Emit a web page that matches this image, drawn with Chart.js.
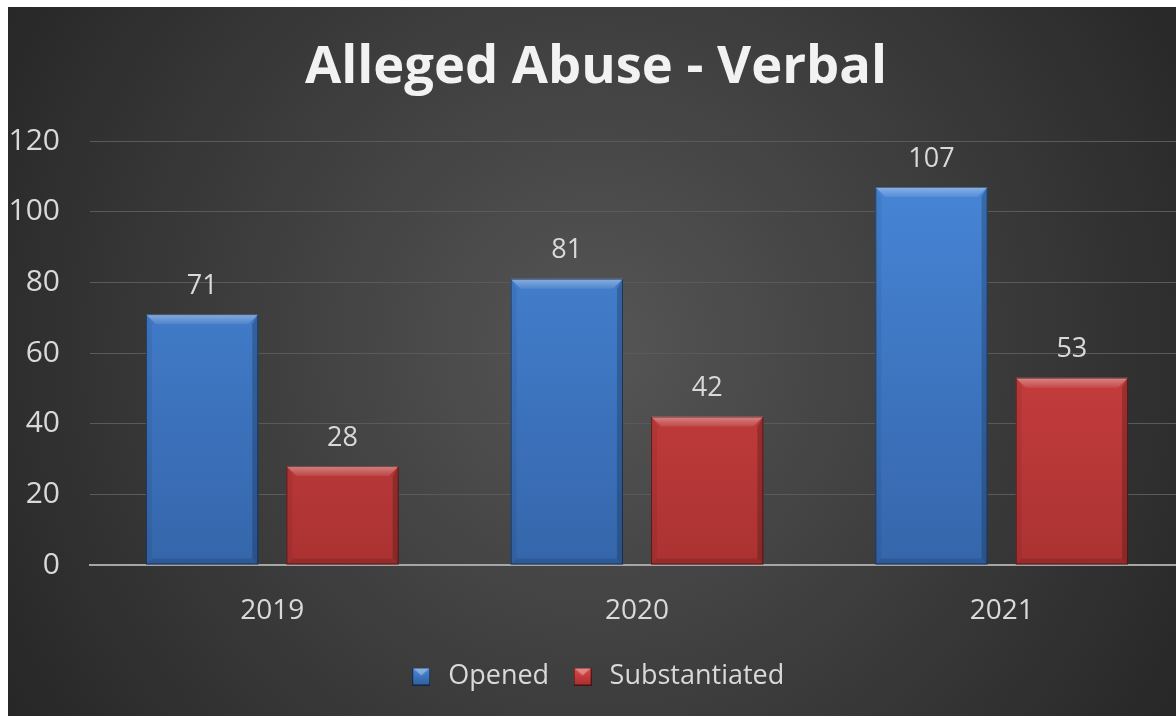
<!DOCTYPE html>
<html>
<head>
<meta charset="utf-8">
<script src="https://cdn.jsdelivr.net/npm/chart.js@4/dist/chart.umd.min.js"></script>
<style>
  html, body { margin: 0; padding: 0; background: #fff; overflow: hidden; }
  #wrap { position: absolute; left: 8px; top: 7px; width: 1176px; height: 709px; }
</style>
</head>
<body>
<div id="wrap"><canvas id="abuseChart"></canvas></div>
<script>
// data
const years = ['2019', '2020', '2021'];
const opened = [71, 81, 107];
const substantiated = [28, 42, 53];
const yTicks = [0, 20, 40, 60, 80, 100, 120];

const FONT = "'Open Sans', 'DejaVu Sans', sans-serif";

// bar fill gradients (top -> bottom)
const barGrad = (ctx, top, bottom) => {
    const chart = ctx.chart;
    const area = chart.chartArea;
    if (!area) return top;
    const g = chart.ctx.createLinearGradient(0, area.top, 0, area.bottom);
    g.addColorStop(0, top);
    g.addColorStop(1, bottom);
    return g;
};

// background: dark radial gradient
const bgPlugin = {
    id: 'bg',
    beforeDraw: (chart) => {
        const c = chart.ctx, w = chart.width, h = chart.height;
        c.save();
        const g = c.createRadialGradient(w * 0.5, h * 0.48, 20, w * 0.5, h * 0.48, w * 0.62);
        g.addColorStop(0, '#545454');
        g.addColorStop(1, '#242424');
        c.fillStyle = g;
        c.fillRect(0, 0, w, h);
        c.restore();
    }
};

// bevel on each bar + value labels
const bevelPlugin = {
    id: 'bevel',
    afterDatasetsDraw: (chart) => {
        const c = chart.ctx;
        chart.data.datasets.forEach((ds, di) => {
            const meta = chart.getDatasetMeta(di);
            meta.data.forEach((bar, i) => {
                const l = bar.x - bar.width / 2, r = bar.x + bar.width / 2;
                const t = bar.y, b = bar.base;
                const s = 10;
                c.save();
                // top bevel
                let g = c.createLinearGradient(0, t, 0, t + s);
                g.addColorStop(0, 'rgba(255,255,255,0.38)');
                g.addColorStop(1, 'rgba(255,255,255,0.08)');
                c.fillStyle = g;
                c.beginPath();
                c.moveTo(l, t); c.lineTo(r, t); c.lineTo(r - s, t + s); c.lineTo(l + s, t + s);
                c.closePath(); c.fill();
                // left bevel
                c.fillStyle = 'rgba(0,0,0,0.06)';
                c.beginPath();
                c.moveTo(l, t); c.lineTo(l + s * 0.6, t + s); c.lineTo(l + s * 0.6, b - s * 0.6); c.lineTo(l, b);
                c.closePath(); c.fill();
                // right bevel
                c.fillStyle = 'rgba(0,0,0,0.2)';
                c.beginPath();
                c.moveTo(r, t); c.lineTo(r - s * 0.6, t + s); c.lineTo(r - s * 0.6, b - s * 0.6); c.lineTo(r, b);
                c.closePath(); c.fill();
                // bottom bevel
                c.fillStyle = 'rgba(0,0,0,0.12)';
                c.beginPath();
                c.moveTo(l, b); c.lineTo(l + s * 0.6, b - s * 0.6); c.lineTo(r - s * 0.6, b - s * 0.6); c.lineTo(r, b);
                c.closePath(); c.fill();
                // outline
                c.strokeStyle = 'rgba(0,0,0,0.45)';
                c.lineWidth = 1;
                c.strokeRect(l + 0.5, t + 0.5, bar.width - 1, b - t - 1);
                // value label
                c.fillStyle = '#d9d9d9';
                c.font = '27px ' + FONT;
                c.textAlign = 'center';
                c.textBaseline = 'middle';
                c.fillText(ds.data[i], bar.x, t - 28);
                c.restore();
            });
        });
    }
};

// legend markers with a small bevel
const legendBox = (top, bottom) => {
    const cv = document.createElement('canvas');
    cv.width = 18; cv.height = 18;
    const c = cv.getContext('2d');
    const g = c.createLinearGradient(0, 0, 0, 18);
    g.addColorStop(0, top); g.addColorStop(1, bottom);
    c.fillStyle = g; c.fillRect(0, 0, 18, 18);
    c.fillStyle = 'rgba(255,255,255,0.35)';
    c.beginPath(); c.moveTo(0, 0); c.lineTo(18, 0); c.lineTo(9, 8); c.closePath(); c.fill();
    c.strokeStyle = 'rgba(0,0,0,0.6)'; c.lineWidth = 1; c.strokeRect(0.5, 0.5, 17, 17);
    return cv;
};

const ctx = document.getElementById('abuseChart').getContext('2d');
new Chart(ctx, {
    type: 'bar',
    data: {
        labels: years,
        datasets: [{
            label: 'Opened',
            data: opened,
            backgroundColor: (c) => barGrad(c, '#4888da', '#3566ab'),
            pointStyle: legendBox('#4a8ad8', '#2f5e9e')
        }, {
            label: 'Substantiated',
            data: substantiated,
            backgroundColor: (c) => barGrad(c, '#e04848', '#ab3232'),
            pointStyle: legendBox('#e04848', '#a83030')
        }]
    },
    options: {
        responsive: true,
        maintainAspectRatio: false,
        animation: false,
        categoryPercentage: 0.77,
        barPercentage: 0.8,
        layout: { padding: { left: 0, right: 0, top: 0, bottom: 16 } },
        plugins: {
            title: {
                display: true,
                text: 'Alleged Abuse - Verbal',
                color: '#f2f2f2',
                font: { family: FONT, size: 52.5, weight: 'bold' },
                padding: { top: 30, bottom: 41 }
            },
            legend: {
                position: 'bottom',
                labels: {
                    usePointStyle: true,
                    color: '#d9d9d9',
                    font: { family: FONT, size: 27 },
                    padding: 20
                }
            },
            tooltip: { enabled: false }
        },
        scales: {
            x: {
                afterFit: (s) => { s.height = 78; },
                grid: { display: false, drawTicks: false },
                border: { color: '#a6a6a6', width: 2 },
                ticks: { color: '#d9d9d9', font: { family: FONT, size: 28 }, padding: 29 }
            },
            y: {
                min: 0,
                max: 120,
                afterFit: (s) => { s.width = 82; },
                afterBuildTicks: (s) => { s.ticks = yTicks.map(v => ({ value: v })); },
                grid: { color: '#5a5a5a', lineWidth: 1, drawTicks: false },
                border: { display: false },
                ticks: { color: '#d9d9d9', font: { family: FONT, size: 30 }, padding: 30 }
            }
        }
    },
    plugins: [bgPlugin, bevelPlugin]
});
</script>
</body>
</html>
